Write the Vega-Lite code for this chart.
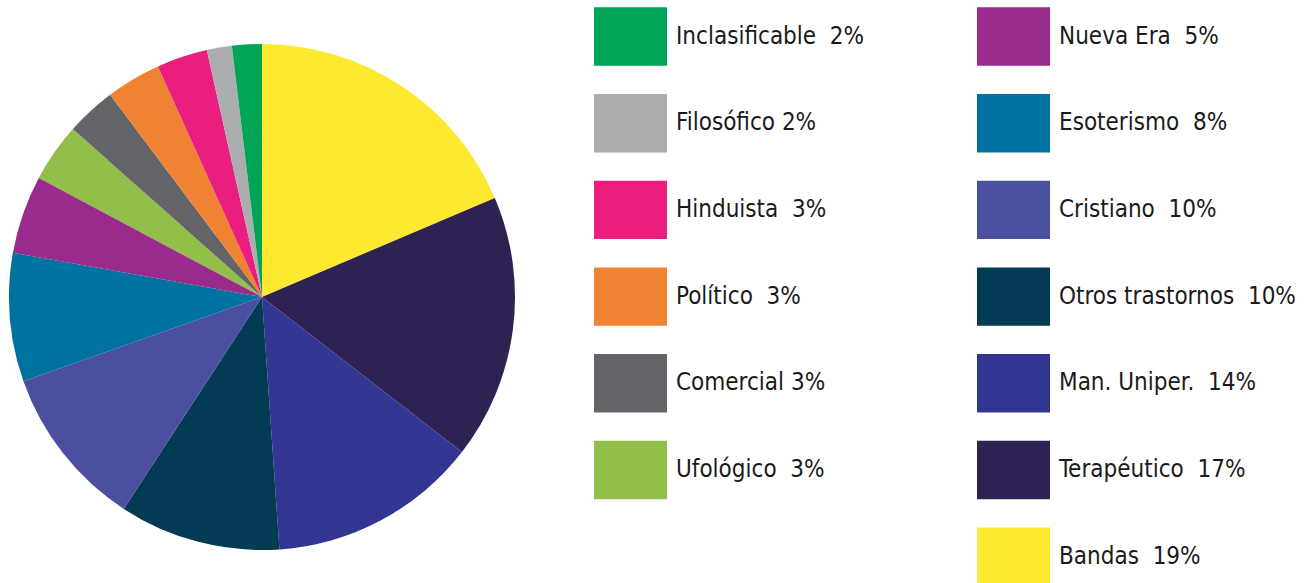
{
  "$schema": "https://vega.github.io/schema/vega-lite/v6.json",
  "width": 506,
  "height": 506,
  "autosize": {"type": "none"},
  "padding": {"left": 9, "top": 44, "right": 793, "bottom": 33},
  "background": "white",
  "data": {
    "values": [
      {"categoria": "Bandas", "valor": 18.6, "etiqueta": "Bandas\u00a0\u00a019%", "orden": 1, "grupo": "B"},
      {"categoria": "Terapéutico", "valor": 16.9, "etiqueta": "Terapéutico\u00a0\u00a017%", "orden": 2, "grupo": "B"},
      {"categoria": "Man. Uniper.", "valor": 13.4, "etiqueta": "Man. Uniper.\u00a0\u00a014%", "orden": 3, "grupo": "B"},
      {"categoria": "Otros trastornos", "valor": 10.3, "etiqueta": "Otros trastornos\u00a0\u00a010%", "orden": 4, "grupo": "B"},
      {"categoria": "Cristiano", "valor": 10.4, "etiqueta": "Cristiano\u00a0\u00a010%", "orden": 5, "grupo": "B"},
      {"categoria": "Esoterismo", "valor": 8.2, "etiqueta": "Esoterismo\u00a0\u00a08%", "orden": 6, "grupo": "B"},
      {"categoria": "Nueva Era", "valor": 5.0, "etiqueta": "Nueva Era\u00a0\u00a05%", "orden": 7, "grupo": "B"},
      {"categoria": "Ufológico", "valor": 3.75, "etiqueta": "Ufológico\u00a0\u00a03%", "orden": 8, "grupo": "A"},
      {"categoria": "Comercial", "valor": 3.2, "etiqueta": "Comercial 3%", "orden": 9, "grupo": "A"},
      {"categoria": "Político", "valor": 3.5, "etiqueta": "Político\u00a0\u00a03%", "orden": 10, "grupo": "A"},
      {"categoria": "Hinduista", "valor": 3.25, "etiqueta": "Hinduista\u00a0\u00a03%", "orden": 11, "grupo": "A"},
      {"categoria": "Filosófico", "valor": 1.6, "etiqueta": "Filosófico 2%", "orden": 12, "grupo": "A"},
      {"categoria": "Inclasificable", "valor": 1.9, "etiqueta": "Inclasificable\u00a0\u00a02%", "orden": 13, "grupo": "A"}
    ]
  },
  "transform": [
    {"stack": "valor", "groupby": [], "sort": [{"field": "orden", "order": "ascending"}], "as": ["inicio", "fin"]}
  ],
  "layer": [
    {
      "transform": [{"filter": "datum.grupo == 'A'"}],
      "mark": {"type": "arc", "strokeWidth": 0},
      "encoding": {
        "theta": {"field": "inicio", "type": "quantitative", "scale": {"domain": [0, 100]}},
        "theta2": {"field": "fin"},
        "color": {
          "field": "etiqueta",
          "type": "nominal",
          "scale": {
            "domain": ["Inclasificable\u00a0\u00a02%", "Filosófico 2%", "Hinduista\u00a0\u00a03%", "Político\u00a0\u00a03%", "Comercial 3%", "Ufológico\u00a0\u00a03%"],
            "range": ["#00a456", "#acadaf", "#e91e7f", "#ef8233", "#636468", "#92bf4a"]
          },
          "legend": {
            "orient": "none", "legendX": 585, "legendY": -44, "title": null,
            "symbolType": "M-1,-0.8H1V0.8H-1Z", "symbolSize": 5329, "symbolStrokeWidth": 0, "symbolOpacity": 1,
            "labelFont": "DejaVu Sans Condensed, Roboto, sans-serif", "labelFontSize": 24, "labelColor": "#1a1a1a",
            "labelOffset": 9, "rowPadding": 20.7, "labelLimit": 500
          }
        }
      }
    },
    {
      "transform": [{"filter": "datum.grupo == 'B'"}],
      "mark": {"type": "arc", "strokeWidth": 0},
      "encoding": {
        "theta": {"field": "inicio", "type": "quantitative", "scale": {"domain": [0, 100]}},
        "theta2": {"field": "fin"},
        "color": {
          "field": "etiqueta",
          "type": "nominal",
          "scale": {
            "domain": ["Nueva Era\u00a0\u00a05%", "Esoterismo\u00a0\u00a08%", "Cristiano\u00a0\u00a010%", "Otros trastornos\u00a0\u00a010%", "Man. Uniper.\u00a0\u00a014%", "Terapéutico\u00a0\u00a017%", "Bandas\u00a0\u00a019%"],
            "range": ["#9a2a8b", "#0072a0", "#4a4f9f", "#033a54", "#323591", "#2e2252", "#fde92f"]
          },
          "legend": {
            "orient": "none", "legendX": 968, "legendY": -44, "title": null,
            "symbolType": "M-1,-0.8H1V0.8H-1Z", "symbolSize": 5329, "symbolStrokeWidth": 0, "symbolOpacity": 1,
            "labelFont": "DejaVu Sans Condensed, Roboto, sans-serif", "labelFontSize": 24, "labelColor": "#1a1a1a",
            "labelOffset": 9, "rowPadding": 20.7, "labelLimit": 500
          }
        }
      }
    }
  ],
  "resolve": {"scale": {"color": "independent"}},
  "config": {"view": {"stroke": null}}
}
